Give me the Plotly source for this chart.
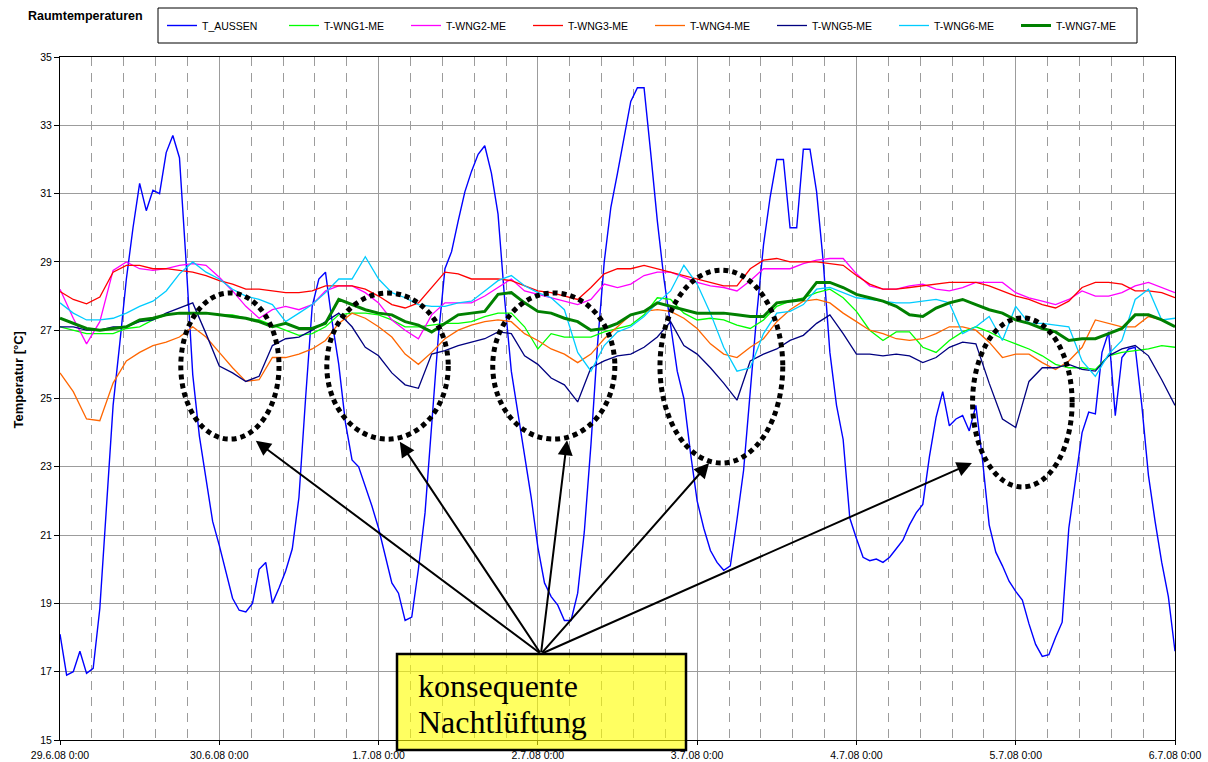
import pandas as pd
import plotly.graph_objects as go

# ---------------------------------------------------------------------------
# Measurement data: outdoor temperature (hourly) and room temperatures (2-hourly)
# ---------------------------------------------------------------------------
START = "2008-06-29 00:00"
END = "2008-07-06 00:00"

time_1h = pd.date_range(START, periods=169, freq="h")
time_2h = pd.date_range(START, periods=85, freq="2h")

t_aussen = [
    18.1, 16.9, 17.0, 17.6, 16.95, 17.1, 18.85, 21.7, 24.8, 26.6, 28.5, 30.0,
    31.3, 30.5, 31.1, 31.0, 32.2, 32.7, 32.05, 29.0, 25.7, 23.9, 22.65, 21.4,
    20.7, 19.9, 19.15, 18.8, 18.75, 19.0, 20.0, 20.2, 19.0, 19.45, 19.95, 20.6,
    22.1, 25.0, 27.7, 28.5, 28.7, 27.25, 26.0, 24.3, 23.2, 23.0, 22.45, 21.85,
    21.2, 20.4, 19.6, 19.3, 18.5, 18.6, 20.0, 21.65, 24.1, 26.8, 28.8, 29.3,
    30.2, 31.05, 31.65, 32.15, 32.4, 31.6, 30.4, 27.9, 25.8, 24.55, 23.4, 22.1,
    20.65, 19.6, 19.2, 18.95, 18.5, 18.5, 19.3, 21.1, 23.65, 26.6, 29.0, 30.6,
    31.6, 32.7, 33.7, 34.1, 34.1, 32.2, 30.2, 28.5, 27.1, 25.8, 25.0, 23.4,
    22.0, 21.2, 20.55, 20.2, 19.97, 20.1, 21.45, 22.9, 25.2, 27.5, 29.5, 30.9,
    32.0, 32.0, 30.0, 30.0, 32.3, 32.3, 31.05, 29.0, 26.35, 24.8, 23.8, 21.5,
    20.9, 20.35, 20.25, 20.3, 20.2, 20.35, 20.6, 20.85, 21.3, 21.65, 21.9, 23.3,
    24.45, 25.2, 24.2, 24.4, 24.5, 24.05, 24.8, 23.2, 21.3, 20.5, 20.1, 19.65,
    19.35, 19.1, 18.4, 17.8, 17.45, 17.5, 18.0, 18.45, 21.2, 22.65, 24.0, 24.6,
    24.55, 26.35, 26.95, 24.5, 26.2, 26.45, 26.5, 24.8, 22.75, 21.4, 20.2, 19.2,
    17.6,
]

t_wng1 = [
    27.1, 27.0, 26.9, 26.9, 26.9, 27.05, 27.1, 27.3, 27.45, 27.5, 27.5, 27.5,
    27.45, 27.45, 27.35, 27.3, 27.15, 27.0, 26.85, 26.9, 27.1, 27.45, 27.5, 27.5,
    27.45, 27.3, 27.1, 27.1, 27.15, 27.2, 27.2, 27.25, 27.4, 27.5, 27.5, 27.1,
    26.45, 26.9, 26.8, 26.8, 26.8, 26.95, 27.05, 27.15, 27.45, 27.95, 27.9, 27.5,
    27.3, 27.35, 27.3, 27.15, 27.05, 27.3, 27.7, 27.85, 27.95, 28.1, 28.2, 27.95,
    27.55, 27.0, 26.7, 26.95, 26.95, 26.5, 26.35, 26.7, 26.95, 27.1, 26.95, 26.75,
    26.6, 26.45, 26.25, 26.0, 25.9, 25.9, 25.85, 26.25, 26.35, 26.4, 26.45, 26.55,
    26.5,
]

t_wng2 = [
    28.2, 27.35, 26.6, 27.25, 28.75, 29.0, 28.8, 28.75, 28.8, 28.9, 28.95, 28.9,
    28.55, 28.15, 27.7, 27.35, 27.6, 27.7, 27.6, 27.75, 28.15, 28.3, 28.3, 28.1,
    27.8, 27.3, 27.0, 26.75, 27.45, 27.8, 27.8, 27.8, 28.0, 28.25, 28.5, 28.15,
    28.05, 27.95, 27.85, 27.75, 27.9, 28.35, 28.25, 28.35, 28.6, 28.7, 28.7, 28.55,
    28.4, 28.3, 28.25, 28.15, 28.45, 28.8, 28.8, 28.8, 28.95, 29.05, 29.1, 29.1,
    28.65, 28.3, 28.2, 28.2, 28.3, 28.35, 28.2, 28.15, 28.25, 28.4, 28.4, 28.4,
    28.1, 27.95, 27.85, 27.75, 27.9, 28.15, 28.0, 28.0, 28.1, 28.3, 28.4, 28.25,
    28.1,
]

t_wng3 = [
    28.13, 27.9, 27.77, 27.97, 28.7, 28.9, 28.9, 28.8, 28.8, 28.75, 28.7, 28.6,
    28.45, 28.35, 28.2, 28.2, 28.15, 28.1, 28.1, 28.15, 28.3, 28.3, 28.3, 28.2,
    28.0, 27.75, 27.65, 27.8, 28.25, 28.7, 28.65, 28.5, 28.5, 28.5, 28.45, 28.3,
    28.15, 28.1, 28.0, 27.9, 28.25, 28.65, 28.8, 28.8, 28.9, 28.8, 28.7, 28.6,
    28.5, 28.4, 28.3, 28.3, 28.8, 29.05, 29.1, 29.0, 29.0, 29.0, 28.95, 28.9,
    28.6, 28.35, 28.2, 28.2, 28.25, 28.3, 28.35, 28.4, 28.4, 28.4, 28.3, 28.15,
    28.0, 27.9, 27.75, 27.65, 27.85, 28.25, 28.4, 28.4, 28.35, 28.15, 28.15, 28.1,
    27.95,
]

t_wng4 = [
    25.75, 25.2, 24.4, 24.35, 25.45, 26.1, 26.35, 26.55, 26.65, 26.8, 27.1, 26.8,
    26.35, 25.9, 25.5, 25.55, 26.2, 26.2, 26.3, 26.45, 26.7, 27.2, 27.5, 27.35,
    27.1, 26.8, 26.3, 26.0, 26.35, 26.75, 27.0, 27.15, 27.25, 27.3, 27.25, 26.9,
    26.7, 26.45, 26.3, 26.05, 26.3, 26.75, 27.1, 27.45, 27.55, 27.6, 27.55, 27.35,
    27.05, 26.6, 26.3, 26.2, 26.5, 26.75, 27.25, 27.6, 27.85, 27.9, 27.8, 27.5,
    27.25, 27.0, 26.9, 26.75, 26.7, 26.75, 26.9, 27.1, 27.1, 27.0, 26.65, 26.2,
    26.3, 26.3, 26.05, 25.85, 26.1, 26.5, 27.3, 27.2, 27.1, 27.1, 27.4, 27.3,
    27.1,
]

t_wng5 = [
    27.1, 27.1, 27.0, 27.0, 27.1, 27.1, 27.25, 27.3, 27.5, 27.65, 27.8, 26.9,
    25.95, 25.75, 25.5, 25.65, 26.55, 26.75, 26.8, 27.0, 27.25, 27.5, 27.1, 26.5,
    26.25, 25.75, 25.4, 25.3, 26.3, 26.4, 26.55, 26.65, 26.75, 26.95, 26.9, 26.25,
    26.0, 25.6, 25.4, 24.9, 25.9, 26.1, 26.25, 26.3, 26.5, 26.8, 27.25, 26.55,
    26.3, 25.9, 25.45, 24.95, 26.1, 26.3, 26.45, 26.7, 26.85, 27.2, 27.45, 26.9,
    26.3, 26.3, 26.25, 26.3, 26.25, 26.05, 26.2, 26.5, 26.65, 26.6, 25.45, 24.4,
    24.15, 25.5, 25.9, 25.9, 26.0, 25.85, 25.8, 26.25, 26.45, 26.55, 26.25, 25.55,
    24.8,
]

t_wng6 = [
    27.8, 27.5, 27.3, 27.3, 27.35, 27.5, 27.7, 27.85, 28.15, 28.65, 29.0, 28.7,
    28.5, 28.2, 28.0, 27.9, 27.75, 27.25, 27.5, 27.75, 28.1, 28.5, 28.5, 29.15,
    28.5, 28.1, 27.95, 27.75, 27.7, 27.7, 27.8, 27.85, 28.15, 28.45, 28.6, 28.3,
    28.1, 27.95, 27.6, 26.35, 25.8, 26.55, 26.95, 27.1, 27.4, 27.8, 28.15, 28.9,
    28.35, 27.5, 26.5, 25.8, 25.9, 26.9, 27.5, 27.55, 27.75, 28.2, 28.25, 28.1,
    27.95, 27.9, 27.85, 27.8, 27.8, 27.85, 27.9, 27.8, 26.9, 27.1, 27.4, 26.7,
    27.7, 27.2, 27.2, 27.15, 27.1, 26.1, 25.65, 26.3, 26.7, 27.9, 28.2, 27.3,
    27.35,
]

t_wng7 = [
    27.35, 27.2, 27.05, 27.0, 27.05, 27.1, 27.3, 27.35, 27.45, 27.5, 27.5, 27.5,
    27.45, 27.4, 27.35, 27.25, 27.1, 27.2, 27.05, 27.05, 27.2, 27.9, 27.75, 27.6,
    27.5, 27.45, 27.25, 27.15, 26.95, 27.2, 27.45, 27.5, 27.55, 28.05, 28.1, 27.8,
    27.55, 27.5, 27.35, 27.25, 27.0, 27.05, 27.2, 27.45, 27.55, 27.8, 27.7, 27.6,
    27.5, 27.5, 27.5, 27.45, 27.4, 27.4, 27.8, 27.85, 27.9, 28.4, 28.4, 28.25,
    28.05, 27.95, 27.85, 27.7, 27.45, 27.4, 27.65, 27.8, 27.9, 27.75, 27.6, 27.5,
    27.3, 27.2, 27.05, 26.95, 26.7, 26.75, 26.75, 26.9, 27.05, 27.45, 27.45, 27.3,
    27.1,
]

series = [
    ("T_AUSSEN", time_1h, t_aussen, "#0000FF", 1.4),
    ("T-WNG1-ME", time_2h, t_wng1, "#00FF00", 1.3),
    ("T-WNG2-ME", time_2h, t_wng2, "#FF00FF", 1.3),
    ("T-WNG3-ME", time_2h, t_wng3, "#FF0000", 1.3),
    ("T-WNG4-ME", time_2h, t_wng4, "#FF6600", 1.3),
    ("T-WNG5-ME", time_2h, t_wng5, "#000080", 1.3),
    ("T-WNG6-ME", time_2h, t_wng6, "#00CCFF", 1.3),
    ("T-WNG7-ME", time_2h, t_wng7, "#008000", 3.0),
]

# Night-ventilation periods marked with dotted ellipses: (hour from, hour to, T low, T high)
night_marks = [
    (18.2, 33.0, 23.81, 28.09),
    (40.2, 58.5, 23.81, 28.09),
    (65.2, 83.6, 23.81, 28.09),
    (90.4, 108.9, 23.11, 28.76),
    (137.5, 152.5, 22.41, 27.36),
]
arrow_origin = (72.47, 17.52)
arrow_tips = [(29.5, 23.76), (51.2, 23.73), (76.4, 23.78), (97.8, 23.11), (137.4, 23.11)]

FONT = "Liberation Sans, Arial, sans-serif"
SERIF = "Liberation Serif, Times New Roman, serif"
GRID = "#9C9C9C"


def at_hour(h):
    return pd.Timestamp(START) + pd.Timedelta(hours=h)


fig = go.Figure()
for name, tx, ty, color, width in series:
    fig.add_trace(go.Scatter(
        x=tx, y=ty, name=name, mode="lines",
        line=dict(color=color, width=width),
    ))

shapes = []
for h0, h1, lo, hi in night_marks:
    shapes.append(dict(
        type="circle", xref="x", yref="y",
        x0=at_hour(h0), x1=at_hour(h1), y0=lo, y1=hi,
        line=dict(color="black", width=5, dash="5px,4px"), layer="above",
    ))

# legend frame
shapes.append(dict(
    type="rect", xref="paper", yref="paper",
    x0=(158 - 60) / 1115, x1=(1137 - 60) / 1115,
    y0=1 + (57 - 43) / 683, y1=1 + (57 - 8) / 683,
    line=dict(color="black", width=1), fillcolor="rgba(0,0,0,0)", layer="above",
))

# yellow text box
shapes.append(dict(
    type="rect", xref="paper", yref="paper",
    x0=(397 - 60) / 1115, x1=(686 - 60) / 1115,
    y0=(740 - 750) / 683, y1=(740 - 654) / 683,
    line=dict(color="black", width=2.5), fillcolor="rgba(255,255,0,0.62)", layer="above",
))

annotations = []
for hx, ty in arrow_tips:
    annotations.append(dict(
        x=at_hour(hx), y=ty, xref="x", yref="y",
        ax=at_hour(arrow_origin[0]), ay=arrow_origin[1], axref="x", ayref="y",
        text="", showarrow=True, arrowhead=2, arrowsize=1.5, arrowwidth=2,
        arrowcolor="black", standoff=0, startstandoff=0,
    ))

annotations.append(dict(
    text="konsequente", xref="paper", yref="paper",
    x=(416 - 60) / 1115, y=(740 - 686) / 683, xanchor="left", yanchor="middle",
    showarrow=False, font=dict(family=SERIF, size=32, color="black"),
))
annotations.append(dict(
    text="Nachtlüftung", xref="paper", yref="paper",
    x=(416 - 60) / 1115, y=(740 - 722) / 683, xanchor="left", yanchor="middle",
    showarrow=False, font=dict(family=SERIF, size=32, color="black"),
))
annotations.append(dict(
    text="<b>Temperatur [°C]</b>", xref="paper", yref="paper",
    x=(17.5 - 60) / 1115, y=(740 - 380) / 683, xanchor="center", yanchor="middle",
    textangle=-90, showarrow=False, font=dict(family=FONT, size=13, color="black"),
))
annotations.append(dict(
    text="<b>Raumtemperaturen</b>", xref="paper", yref="paper",
    x=(26 - 60) / 1115, y=1 + (57 - 16) / 683, xanchor="left", yanchor="middle",
    showarrow=False, font=dict(family=FONT, size=12.5, color="black"),
))

fig.update_layout(
    width=1208, height=762,
    margin=dict(l=60, r=33, t=57, b=22, autoexpand=False),
    paper_bgcolor="white", plot_bgcolor="white",
    font=dict(family=FONT, size=10.5, color="black"),
    showlegend=True,
    legend=dict(
        orientation="h", xanchor="left", yanchor="middle",
        x=(162 - 60) / 1115, y=1 + (57 - 25.5) / 683,
        bgcolor="rgba(0,0,0,0)", borderwidth=0,
        font=dict(family=FONT, size=10.5, color="black"),
        entrywidth=77, entrywidthmode="pixels", itemwidth=30,
    ),
    shapes=shapes,
    annotations=annotations,
    xaxis=dict(
        type="date", range=[START, END], automargin=False,
        tick0=START, dtick=86400000, tickformat="%-d.%-m.%y %-H:%M",
        ticks="outside", ticklen=4, tickcolor="black",
        ticklabelstandoff=1,
        showline=True, linecolor="black", linewidth=1, mirror=True,
        showgrid=True, gridcolor=GRID, gridwidth=1,
        minor=dict(tickmode="linear", tick0=START, dtick=17280000, showgrid=True,
                   gridcolor=GRID, gridwidth=1, griddash="9px,7px", ticks=""),
        tickfont=dict(family=FONT, size=10.5, color="black"),
        zeroline=False,
    ),
    yaxis=dict(
        range=[15, 35], tick0=15, dtick=2, automargin=False,
        ticks="outside", ticklen=5, tickcolor="black",
        showline=True, linecolor="black", linewidth=1, mirror=True,
        showgrid=True, gridcolor=GRID, gridwidth=1,
        tickfont=dict(family=FONT, size=10.5, color="black"),
        zeroline=False,
    ),
)

fig.write_html("out.html")
